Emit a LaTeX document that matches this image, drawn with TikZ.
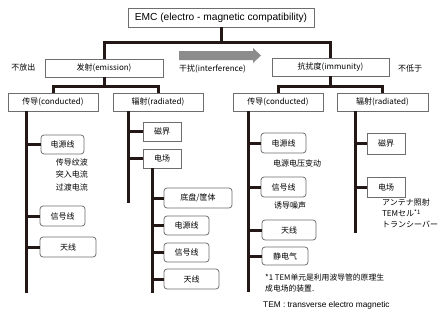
\documentclass[tikz,border=0pt]{standalone}
\usepackage{fontspec}
\setmainfont{Liberation Sans}
\newfontfamily\cjk{Noto Sans CJK SC}
\definecolor{ink}{HTML}{231815}
\definecolor{edge}{HTML}{6E6E6E}
\definecolor{arrowgray}{HTML}{8C8C8C}
\begin{document}
\begin{tikzpicture}[x=1pt,y=-1pt,
  box/.style={draw=edge, line width=0.75pt, fill=white, inner sep=0pt, font=\cjk\fontsize{8}{9}\selectfont},
  leaf/.style={box, rounded corners=3pt},
  conn/.style={draw=ink, line width=3pt},
  lbl/.style={inner sep=0pt, font=\cjk\fontsize{8}{9}\selectfont}]
\fill[white] (0,0) rectangle (448,316);
\useasboundingbox (0,0) rectangle (448,316);

% top level
\node[box, minimum width=186pt, minimum height=19pt, font=\fontsize{10.2}{12}\selectfont] (emc) at (221,17.5) {EMC (electro - magnetic compatibility)};
\node[box, minimum width=118pt, minimum height=18pt] (emi) at (104,68) {发射(emission)};
\node[box, minimum width=117pt, minimum height=18pt] (imm) at (330.5,67) {抗扰度(immunity)};

% second level
\node[box, minimum width=90pt, minimum height=18pt] (lc) at (53,102) {传导(conducted)};
\node[box, minimum width=90pt, minimum height=18pt] (lr) at (158,102) {辐射(radiated)};
\node[box, minimum width=90pt, minimum height=18pt] (rc) at (278,102) {传导(conducted)};
\node[box, minimum width=91pt, minimum height=18pt] (rr) at (382.5,102) {辐射(radiated)};

% left conducted leaves
\node[leaf, minimum width=43pt, minimum height=19pt] (lc1) at (62.5,144.5) {电源线};
\node[leaf, minimum width=45pt, minimum height=20pt] (lc2) at (62.5,216) {信号线};
\node[leaf, minimum width=56pt, minimum height=20pt] (lc3) at (68,247) {天线};

% left radiated
\node[box, minimum width=38pt, minimum height=19pt] (lr1) at (162,131.5) {磁界};
\node[box, minimum width=38pt, minimum height=19pt] (lr2) at (162,158.5) {电场};
\node[leaf, minimum width=68pt, minimum height=20pt] (lr21) at (198,198) {底盘/筐体};
\node[leaf, minimum width=45pt, minimum height=19pt] (lr22) at (186.5,225.5) {电源线};
\node[leaf, minimum width=45pt, minimum height=19pt] (lr23) at (186.5,252.5) {信号线};
\node[leaf, minimum width=55pt, minimum height=20pt] (lr24) at (191.5,279) {天线};

% right conducted
\node[leaf, minimum width=45pt, minimum height=20pt] (rc1) at (283.5,143) {电源线};
\node[leaf, minimum width=45pt, minimum height=20pt] (rc2) at (283.5,187) {信号线};
\node[leaf, minimum width=54pt, minimum height=20pt] (rc3) at (289,230) {天线};
\node[leaf, minimum width=46pt, minimum height=18pt] (rc4) at (285,256) {静电气};

% right radiated
\node[box, minimum width=38pt, minimum height=21pt] (rr1) at (386,143.5) {磁界};
\node[box, minimum width=38pt, minimum height=20pt] (rr2) at (386,187) {电场};

% connectors
\coordinate (topbar) at (221,42);
\draw[conn] (emc.south) -- (emc.south |- topbar);
\draw[conn] (emi.north) |- (topbar) -| (imm.north);

\coordinate (eb) at (104,86);
\draw[conn] (emi.south) -- (eb);
\draw[conn] (lc.north) |- (eb) -| (lr.north);
\coordinate (ib) at (330.5,86);
\draw[conn] (imm.south) -- (ib);
\draw[conn] (rc.north) |- (ib) -| (rr.north);

\coordinate (lcT) at (26,293);
\draw[conn] (lc.south -| lcT) -- (lcT);
\foreach \n in {lc1,lc2,lc3} \draw[conn] (\n.west -| lcT) -- (\n.west);

\coordinate (lrT) at (128,203);
\draw[conn] (lr.south -| lrT) -- (lrT);
\foreach \n in {lr1,lr2} \draw[conn] (\n.west -| lrT) -- (\n.west);

\coordinate (lr2T) at (152,293);
\draw[conn] (lr2.south -| lr2T) -- (lr2T);
\foreach \n in {lr21,lr22,lr23,lr24} \draw[conn] (\n.west -| lr2T) -- (\n.west);

\coordinate (rcT) at (248.5,292);
\draw[conn] (rc.south -| rcT) -- (rcT);
\foreach \n in {rc1,rc2,rc3,rc4} \draw[conn] (\n.west -| rcT) -- (\n.west);

\coordinate (rrT) at (355,233);
\draw[conn] (rr.south -| rrT) -- (rrT);
\foreach \n in {rr1,rr2} \draw[conn] (\n.west -| rrT) -- (\n.west);

% interference arrow
\fill[arrowgray] (179,51) -- (253,51) -- (253,48) -- (261,55.5) -- (253,63) -- (253,60) -- (179,60) -- cycle;

% labels
\node[lbl] (nofang) at (23.5,67) {不放出};
\node[lbl, anchor=west] (ganrao) at (179,69) {干扰(interference)};
\node[lbl] (budi) at (410,68) {不低于};
\node[lbl, align=center, font=\cjk\fontsize{8}{12.5}\selectfont] (lcnote) at (72,174.5) {传导纹波\\突入电流\\过渡电流};
\node[lbl, anchor=west] (rcnote1) at (273,163) {电源电压变动};
\node[lbl, anchor=west] (rcnote2) at (274,205.5) {诱导噪声};
\node[lbl, anchor=north west, align=left, font=\cjk\fontsize{8}{11}\selectfont] (rrnote) at (382,199) {アンテナ照射\\TEMセル\textsuperscript{*1}\\トランシーバー};
\node[lbl, anchor=north west, align=left, font=\cjk\fontsize{7.8}{11}\selectfont] (foot) at (265,274) {*1 TEM单元是利用波导管的原理生\\成电场的装置.};
\node[lbl, anchor=west, font=\fontsize{8.3}{10}\selectfont] (tem) at (263,305) {TEM : transverse electro magnetic};
\end{tikzpicture}
\end{document}
